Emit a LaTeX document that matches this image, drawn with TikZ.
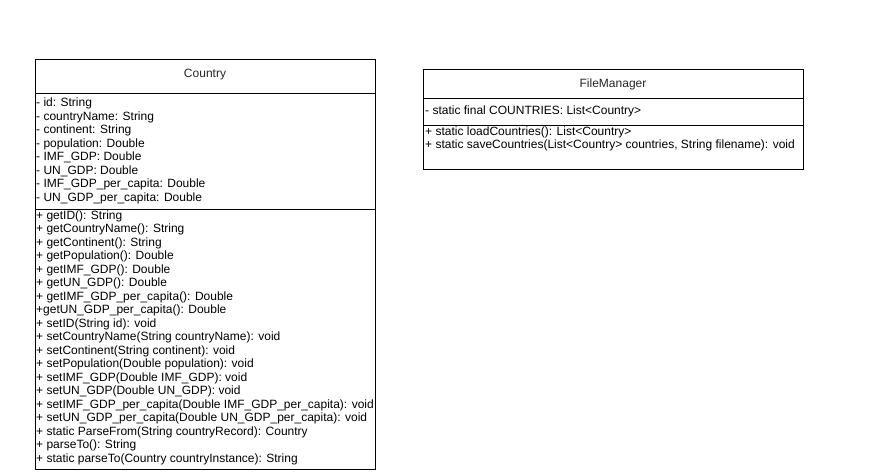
\documentclass[tikz,border=0pt]{standalone}
\usepackage{fontspec}
\setmainfont{Liberation Sans}
\begin{document}
\begin{tikzpicture}[x=1pt,y=-1pt,
  umlbox/.style={draw=black,line width=0.9pt,fill=white},
  sep/.style={draw=black,line width=0.9pt},
  member/.style={anchor=west,inner sep=0pt,font=\fontsize{12}{14}\selectfont,text height=8.5pt,text depth=2.3pt},
  title/.style={anchor=center,inner sep=0pt,font=\fontsize{12}{14}\selectfont,text=black!85}]
\useasboundingbox (0,0) rectangle (881,475);
\fill[white] (0,0) rectangle (881,475);
% Country
\draw[umlbox] (35,59) rectangle (375,469);
\draw[sep] (35,93) -- (375,93);
\draw[sep] (35,209) -- (375,209);
\node[title] (ctitle) at (205,75) {Country};
\foreach \t [count=\i] in {
 {- id: String},
 {- countryName: String},
 {- continent: String},
 {- population: Double},
 {- IMF\_GDP: Double},
 {- UN\_GDP: Double},
 {- IMF\_GDP\_per\_capita: Double},
 {- UN\_GDP\_per\_capita: Double}}{
 \node[member] (ca\i) at (36,{90+13.5*\i}) {\t};
}
\foreach \t [count=\i] in {
 {+ getID(): String},
 {+ getCountryName(): String},
 {+ getContinent(): String},
 {+ getPopulation(): Double},
 {+ getIMF\_GDP(): Double},
 {+ getUN\_GDP(): Double},
 {+ getIMF\_GDP\_per\_capita(): Double},
 {+getUN\_GDP\_per\_capita(): Double},
 {+ setID(String id): void},
 {+ setCountryName(String countryName): void},
 {+ setContinent(String continent): void},
 {+ setPopulation(Double population): void},
 {+ setIMF\_GDP(Double IMF\_GDP): void},
 {+ setUN\_GDP(Double UN\_GDP): void},
 {+ setIMF\_GDP\_per\_capita(Double IMF\_GDP\_per\_capita): void},
 {+ setUN\_GDP\_per\_capita(Double UN\_GDP\_per\_capita): void},
 {+ static ParseFrom(String countryRecord): Country},
 {+ parseTo(): String},
 {+ static parseTo(Country countryInstance): String}}{
 \node[member] (cm\i) at (36,{202.5+13.5*\i}) {\t};
}
% FileManager
\draw[umlbox] (423,69) rectangle (803,169);
\draw[sep] (423,98) -- (803,98);
\draw[sep] (423,125) -- (803,125);
\node[title] (ftitle) at (613,84) {FileManager};
\node[member] (fa1) at (425,111) {- static final COUNTRIES: List<Country>};
\node[member] (fm1) at (425,132) {+ static loadCountries(): List<Country>};
\node[member] (fm2) at (425,145.5) {+ static saveCountries(List<Country> countries, String filename): void};
\end{tikzpicture}
\end{document}
